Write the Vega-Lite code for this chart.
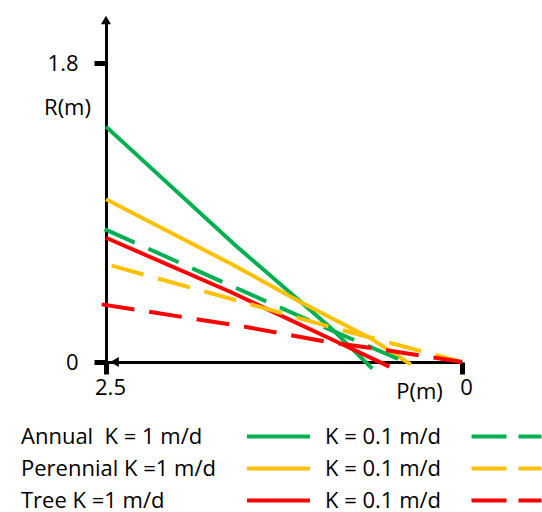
{
  "$schema": "https://vega.github.io/schema/vega-lite/v6.json",
  "width": 356,
  "height": 342,
  "autosize": {"type": "none"},
  "padding": {"left": 106, "top": 20, "right": 80, "bottom": 150},
  "config": {
    "view": {"stroke": null},
    "font": "Open Sans",
    "axis": {"grid": false}
  },
  "data": {
    "values": [
      {"plant": "Annual", "k": "1", "P": 2.5, "R": 1.417},
      {"plant": "Annual", "k": "1", "P": 1.594, "R": 0.704},
      {"plant": "Annual", "k": "1", "P": 0.927, "R": 0.21},
      {"plant": "Annual", "k": "1", "P": 0.63, "R": -0.04},
      {"plant": "Perennial", "k": "1", "P": 2.5, "R": 0.98},
      {"plant": "Perennial", "k": "1", "P": 1.629, "R": 0.594},
      {"plant": "Perennial", "k": "1", "P": 1.138, "R": 0.363},
      {"plant": "Perennial", "k": "1", "P": 0.646, "R": 0.145},
      {"plant": "Perennial", "k": "1", "P": 0.36, "R": -0.014},
      {"plant": "Tree", "k": "1", "P": 2.5, "R": 0.748},
      {"plant": "Tree", "k": "1", "P": 1.629, "R": 0.423},
      {"plant": "Tree", "k": "1", "P": 0.857, "R": 0.113},
      {"plant": "Tree", "k": "1", "P": 0.51, "R": -0.028},
      {"plant": "Annual", "k": "0.1", "P": 2.51, "R": 0.8},
      {"plant": "Annual", "k": "0.1", "P": 1.582, "R": 0.444},
      {"plant": "Annual", "k": "0.1", "P": 0.927, "R": 0.195},
      {"plant": "Annual", "k": "0.1", "P": 0.44, "R": 0.015},
      {"plant": "Perennial", "k": "0.1", "P": 2.46, "R": 0.58},
      {"plant": "Perennial", "k": "0.1", "P": 1.466, "R": 0.343},
      {"plant": "Perennial", "k": "0.1", "P": 0.927, "R": 0.212},
      {"plant": "Perennial", "k": "0.1", "P": 0.494, "R": 0.113},
      {"plant": "Perennial", "k": "0.1", "P": 0.0, "R": 0.0},
      {"plant": "Tree", "k": "0.1", "P": 2.53, "R": 0.347},
      {"plant": "Tree", "k": "0.1", "P": 1.524, "R": 0.212},
      {"plant": "Tree", "k": "0.1", "P": 0.95, "R": 0.122},
      {"plant": "Tree", "k": "0.1", "P": 0.506, "R": 0.068},
      {"plant": "Tree", "k": "0.1", "P": 0.0, "R": 0.0}
    ]
  },
  "encoding": {
    "x": {
      "field": "P",
      "type": "quantitative",
      "scale": {"domain": [0, 2.5], "reverse": true, "nice": false, "zero": false},
      "axis": {
        "values": [2.5, 0],
        "format": ".1~f",
        "title": "P(m)",
        "titleX": 313,
        "titleY": 29,
        "titleAlign": "center",
        "titleBaseline": "middle",
        "titleFontSize": 22,
        "titleFontWeight": "normal",
        "titleColor": "black",
        "domainColor": "black",
        "domainWidth": 3,
        "tickColor": "black",
        "tickWidth": 5,
        "tickSize": 12,
        "labelFontSize": 22,
        "labelColor": "black",
        "labelPadding": 3,
        "labelOffset": 4,
        "labelFlush": false
      }
    },
    "y": {
      "field": "R",
      "type": "quantitative",
      "scale": {"domain": [0, 2.059], "nice": false},
      "axis": {
        "values": [0, 1.8],
        "format": ".1~f",
        "title": "R(m)",
        "titleAngle": 0,
        "titleX": -39,
        "titleY": 87,
        "titleAlign": "center",
        "titleBaseline": "middle",
        "titleFontSize": 22,
        "titleFontWeight": "normal",
        "titleColor": "black",
        "domainColor": "black",
        "domainWidth": 3,
        "tickColor": "black",
        "tickWidth": 5,
        "tickSize": 12,
        "labelFontSize": 22,
        "labelColor": "black",
        "labelPadding": 16,
        "labelFlush": false
      }
    }
  },
  "layer": [
    {
      "transform": [{"filter": "datum.k == '1'"}],
      "mark": {"type": "line", "strokeWidth": 4, "clip": false},
      "encoding": {
        "color": {
          "field": "plant",
          "type": "nominal",
          "scale": {"domain": ["Annual", "Perennial", "Tree"], "range": ["#00B050", "#FFC000", "#FF0000"]},
          "legend": {
            "orient": "none",
            "legendX": 160,
            "legendY": 404,
            "title": null,
            "padding": 0,
            "symbolType": "M-3,0H3",
            "symbolSize": 441,
            "symbolStrokeWidth": 4,
            "labelExpr": "datum.value == 'Annual' ? 'Annual\u00a0 K = 1 m/d' : datum.value == 'Perennial' ? 'Perennial K =1 m/d' : 'Tree K =1 m/d'",
            "labelFontSize": 22,
            "labelColor": "black",
            "labelAlign": "left",
            "labelOffset": -270,
            "labelLimit": 400,
            "rowPadding": 8
          }
        }
      }
    },
    {
      "transform": [{"filter": "datum.k == '0.1'"}],
      "mark": {"type": "line", "strokeWidth": 4, "strokeDash": [33, 15], "clip": false},
      "encoding": {
        "color": {
          "field": "plant",
          "type": "nominal",
          "scale": {"domain": ["Annual", "Perennial", "Tree"], "range": ["#00B050", "#FFC000", "#FF0000"]},
          "legend": {
            "orient": "none",
            "legendX": 388,
            "legendY": 404,
            "title": null,
            "padding": 0,
            "symbolType": "M-3.333,0H3.333",
            "symbolSize": 441,
            "symbolStrokeWidth": 4,
            "symbolDash": [35, 12],
            "labelExpr": "'K = 0.1 m/d'",
            "labelFontSize": 22,
            "labelColor": "black",
            "labelAlign": "left",
            "labelOffset": -194,
            "labelLimit": 400,
            "rowPadding": 8
          }
        }
      }
    },
    {
      "data": {
        "values": [
          {"P": 2.5, "R": 2.059, "shape": "triangle-up"},
          {"P": 2.44, "R": 0, "shape": "triangle-left"}
        ]
      },
      "mark": {"type": "point", "filled": true, "color": "black", "opacity": 1, "size": 100, "clip": false},
      "encoding": {
        "shape": {"field": "shape", "type": "nominal", "scale": null}
      }
    }
  ],
  "resolve": {"scale": {"color": "independent"}}
}
